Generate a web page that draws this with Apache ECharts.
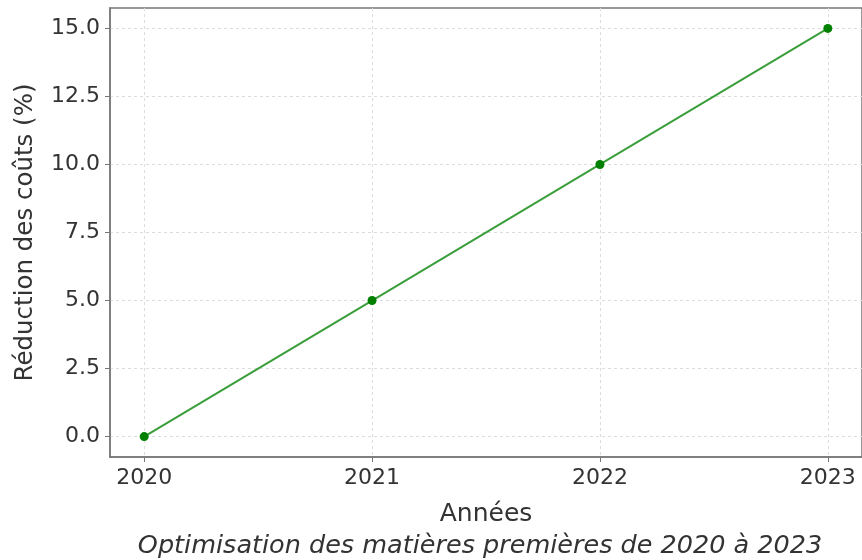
<!DOCTYPE html>
<html><head><meta charset="utf-8">
<script src="https://cdn.jsdelivr.net/npm/echarts@6/dist/echarts.min.js"></script>
<style>html,body{margin:0;padding:0;background:#fff}#c{width:862px;height:560px}</style>
</head><body><div id="c"></div>
<script>
const years = [2020, 2021, 2022, 2023];
const reduction = [0, 5, 10, 15];
const yTicks = [0, 2.5, 5, 7.5, 10, 12.5, 15];
const xTitle = 'Années';
const yTitle = 'Réduction des coûts (%)';
const caption = 'Optimisation des matières premières de 2020 à 2023';

const font = '"DejaVu Sans", sans-serif';
const chart = echarts.init(document.getElementById('c'));
chart.setOption({
  animation: false,
  backgroundColor: '#fff',
  title: {
    text: caption, left: 475, textAlign: 'center', top: 528,
    textStyle: { fontFamily: font, fontStyle: 'italic', fontWeight: 'normal', fontSize: 25.5, color: '#333' }
  },
  grid: { left: 110, top: 8, width: 753, height: 449, show: true, borderColor: '#777', borderWidth: 1.5, backgroundColor: '#fff' },
  xAxis: {
    type: 'value', min: 2019.85, max: 2023.15,
    name: xTitle, nameLocation: 'middle', nameGap: 45,
    nameTextStyle: { fontFamily: font, fontSize: 25, color: '#333' },
    axisLine: { show: true, onZero: false, lineStyle: { color: '#777', width: 1.5 } },
    axisTick: { show: true, length: 5, lineStyle: { color: '#777' }, customValues: years },
    axisLabel: { fontFamily: font, fontSize: 22, color: '#333', margin: 10, customValues: years, formatter: v => String(v) },
    splitLine: { show: true, lineStyle: { color: '#ddd', type: [3, 3], width: 1 } }
  },
  yAxis: {
    type: 'value', min: -0.75, max: 15.75,
    name: yTitle, nameLocation: 'middle', nameGap: 72, nameRotate: 90,
    nameTextStyle: { fontFamily: font, fontSize: 24.5, color: '#333' },
    axisLine: { show: true, onZero: false, lineStyle: { color: '#777', width: 1.5 } },
    axisTick: { show: true, length: 5, lineStyle: { color: '#777' }, customValues: yTicks },
    axisLabel: { fontFamily: font, fontSize: 22, color: '#333', margin: 10, customValues: yTicks, formatter: v => v.toFixed(1) },
    splitLine: { show: true, lineStyle: { color: '#ddd', type: [3, 3], width: 1 } }
  },
  series: [{
    type: 'line',
    data: years.map((y, i) => [y, reduction[i]]),
    symbol: 'circle', symbolSize: 9,
    lineStyle: { color: '#3a9e3a', width: 2 },
    itemStyle: { color: '#008000' }
  }]
});
</script></body></html>
